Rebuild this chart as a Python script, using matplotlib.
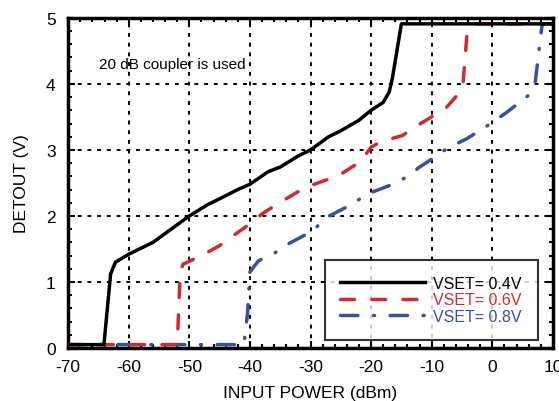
import numpy as np
import matplotlib.pyplot as plt
from matplotlib.ticker import MultipleLocator

plt.rcParams['font.family'] = ['Liberation Sans', 'DejaVu Sans']
plt.rcParams['axes.unicode_minus'] = False

# VSET = 0.4 V
p_04 = [-70, -64.1, -63.0, -62.2, -60, -56, -53, -50, -47, -45, -42, -40, -37, -35,
        -32, -30, -27, -25, -22, -20, -18, -17, -16.5, -15.0, 10]
v_04 = [0.05, 0.05, 1.12, 1.3, 1.42, 1.6, 1.8, 2.0, 2.17, 2.26, 2.4, 2.48, 2.67, 2.74,
        2.91, 3.0, 3.2, 3.29, 3.45, 3.6, 3.72, 3.88, 4.08, 4.91, 4.91]

# VSET = 0.6 V
p_06 = [-70, -52.0, -51.5, -51.0, -48, -45, -42, -40, -38, -36, -32.2, -30, -25.4,
        -21.8, -20, -18.5, -14.8, -12, -10, -7.5, -5.3, -4.8, -4.2, -3.4, -3.0, 10]
v_06 = [0.05, 0.05, 1.17, 1.27, 1.4, 1.55, 1.75, 1.88, 2.03, 2.15, 2.36, 2.46, 2.61,
        2.82, 3.04, 3.12, 3.22, 3.39, 3.5, 3.65, 3.88, 4.03, 4.73, 4.88, 4.91, 4.91]

# VSET = 0.8 V
p_08 = [-70, -41.0, -40.4, -40.0, -38.6, -36.2, -34.2, -29.7, -27.3, -23.1, -20.7,
        -16.4, -14.1, -12, -10, -7.5, -4.2, -0.9, 2.4, 5.9, 7.1, 7.6, 8.2, 8.5, 10]
v_08 = [0.05, 0.05, 0.52, 1.15, 1.32, 1.42, 1.55, 1.77, 1.98, 2.18, 2.33,
        2.48, 2.59, 2.74, 2.86, 3.02, 3.17, 3.36, 3.57, 3.82, 4.03, 4.42, 4.88, 4.91, 4.91]

labels = ['VSET= 0.4V', 'VSET= 0.6V', 'VSET= 0.8V']
colors = ['black', '#d42a2f', '#3a4ea6']

fig = plt.figure(figsize=(5.59, 4.02), dpi=100)
ax = fig.add_axes([0.122, 0.132, 0.867, 0.821])

ax.plot(p_04, v_04, color=colors[0], lw=2.5, label=labels[0], zorder=5)
ax.plot(p_06, v_06, color=colors[1], lw=2.5, ls=(0, (4, 5)), dash_capstyle='round',
        label=labels[1], zorder=4)
ax.plot(p_08, v_08, color=colors[2], lw=2.5, ls=(0, (5, 4.5, 0.3, 4.5)), dash_capstyle='round',
        label=labels[2], zorder=3)

ax.set_xlim(-70, 10)
ax.set_ylim(0, 5)
ax.xaxis.set_major_locator(MultipleLocator(10))
ax.xaxis.set_minor_locator(MultipleLocator(2))
ax.yaxis.set_major_locator(MultipleLocator(1))
ax.yaxis.set_minor_locator(MultipleLocator(0.2))
ax.tick_params(which='both', direction='in', top=True, right=True, width=1.5)
ax.tick_params(which='major', length=5, labelsize=12.5)
ax.tick_params(axis='x', which='major', pad=8)
ax.tick_params(axis='y', which='major', pad=9)
ax.tick_params(which='minor', length=3)
ax.grid(True, which='major', color='black', ls=(0, (2, 3)), lw=1.4)
for s in ax.spines.values():
    s.set_linewidth(2.5)

ax.set_xlabel('INPUT POWER (dBm)', fontsize=12.5, labelpad=8)
ax.set_ylabel('DETOUT (V)', fontsize=12.5, labelpad=12)

ax.text(-64.9, 4.3, '20 dB coupler is used', fontsize=11, va='center', ha='left')

leg = ax.legend(loc='lower right', bbox_to_anchor=(0.985, 0.0), fontsize=11.5,
                frameon=True, fancybox=False, handlelength=5.3, borderpad=1.0,
                labelspacing=0.1, handletextpad=0.5, borderaxespad=0.5)
leg.get_frame().set_edgecolor('black')
leg.get_frame().set_linewidth(1.5)
for t, c in zip(leg.get_texts(), colors):
    t.set_color(c)

fig.savefig('out.png', dpi=100)
